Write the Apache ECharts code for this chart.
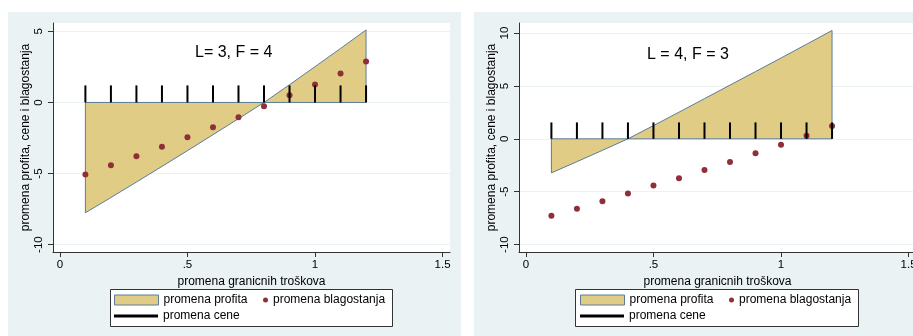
<!DOCTYPE html>
<html><head><meta charset="utf-8">
<script src="https://cdn.jsdelivr.net/npm/echarts@6/dist/echarts.min.js"></script>
<style>html,body{margin:0;padding:0;background:#fff}#c{width:913px;height:336px}</style>
</head><body><div id="c"></div>
<script>
// ---- data ----
const costChange   = [0.1, 0.2, 0.3, 0.4, 0.5, 0.6, 0.7, 0.8, 0.9, 1.0, 1.1, 1.2];
const profitLeft   = [-7.76, -6.69, -5.60, -4.50, -3.39, -2.27, -1.14, 0.0, 1.25, 2.52, 3.80, 5.10];
const welfareLeft  = [-5.06, -4.42, -3.79, -3.11, -2.45, -1.74, -1.04, -0.26, 0.50, 1.27, 2.04, 2.88];
const priceLeft    = [1.2, 1.2, 1.2, 1.2, 1.2, 1.2, 1.2, 1.2, 1.2, 1.2, 1.2, 1.2];
const profitRight  = [-3.22, -2.16, -1.09, 0.0, 1.25, 2.52, 3.80, 5.08, 6.36, 7.64, 8.94, 10.24];
const welfareRight = [-7.27, -6.60, -5.91, -5.18, -4.42, -3.73, -2.94, -2.18, -1.36, -0.57, 0.28, 1.22];
const priceRight   = [1.55, 1.55, 1.55, 1.55, 1.55, 1.55, 1.55, 1.55, 1.55, 1.55, 1.55, 1.55];
const xTickValues  = [0, 0.5, 1, 1.5];
const xTickLabels  = ['0', '.5', '1', '1.5'];
const yTicksLeft   = [-10, -5, 0, 5];
const yTicksRight  = [-10, -5, 0, 5, 10];
const panelTitles  = ['L= 3, F = 4', 'L = 4, F = 3'];
const seriesNames  = ['promena profita', 'promena blagostanja', 'promena cene'];
const xTitle = 'promena granicnih troškova';
const yTitle = 'promena profita, cene i blagostanja';

// ---- styles ----
const FONT = '"Liberation Sans", Arial, sans-serif';
const BG = '#eaf2f3';
const AREA_FILL = '#e0cc85';
const AREA_LINE = '#5b7d99';
const DOT = '#8f2f37';
const AXIS = '#333';

function areaData(vals) {
  const d = [[costChange[0], 0]];
  costChange.forEach((x, i) => d.push([x, vals[i]]));
  d.push([costChange[costChange.length - 1], 0]);
  d.push([costChange[0], 0]);
  return d;
}

const panels = [
  {left: 53, yMin: -10.52, yMax: 5.59, yTicks: yTicksLeft, profit: profitLeft, welfare: welfareLeft, price: priceLeft, legendX: 0, titleLeft: 195, titleTop: 45},
  {left: 519, yMin: -10.70, yMax: 10.95, yTicks: yTicksRight, profit: profitRight, welfare: welfareRight, price: priceRight, legendX: 466, titleLeft: 647, titleTop: 47}
];

const grid = [], xAxis = [], yAxis = [], series = [], legend = [], title = [];
panels.forEach((p, i) => {
  grid.push({left: p.left, top: 23, width: 397, height: 229, show: true, backgroundColor: '#fff', borderWidth: 0, containLabel: false, outerBoundsMode: 'none'});
  xAxis.push({
    gridIndex: i, type: 'value', min: -0.027, max: 1.529,
    splitLine: {show: false},
    axisLine: {show: true, onZero: false, lineStyle: {color: AXIS, width: 1}},
    axisTick: {show: true, customValues: xTickValues, length: 5, lineStyle: {color: AXIS, width: 1}},
    axisLabel: {customValues: xTickValues, formatter: v => { const k = xTickValues.indexOf(v); return k >= 0 ? xTickLabels[k] : String(v); }, margin: 7, fontSize: 11.5, color: '#000', fontFamily: FONT},
    name: xTitle, nameLocation: 'middle', nameGap: 18,
    nameTextStyle: {fontSize: 12, color: '#000', fontFamily: FONT}
  });
  yAxis.push({
    gridIndex: i, type: 'value', min: p.yMin, max: p.yMax,
    splitLine: {show: true, lineStyle: {color: BG, width: 1}},
    axisLine: {show: true, onZero: false, lineStyle: {color: AXIS, width: 1}},
    axisTick: {show: true, customValues: p.yTicks, length: 5, lineStyle: {color: AXIS, width: 1}},
    axisLabel: {customValues: p.yTicks, rotate: 90, margin: 8, fontSize: 11.5, color: '#000', fontFamily: FONT},
    name: yTitle, nameLocation: 'middle', nameGap: 15, nameRotate: 90,
    nameTextStyle: {fontSize: 12, color: '#000', fontFamily: FONT}
  });
  series.push({
    type: 'line', name: seriesNames[0], xAxisIndex: i, yAxisIndex: i,
    data: areaData(p.profit), showSymbol: false, symbol: 'none', silent: true, z: 1,
    lineStyle: {color: AREA_LINE, width: 1}, itemStyle: {color: AREA_LINE},
    areaStyle: {color: AREA_FILL, opacity: 1}
  });
  series.push({
    type: 'scatter', name: seriesNames[1], xAxisIndex: i, yAxisIndex: i,
    data: costChange.map((x, k) => [x, p.welfare[k]]), symbol: 'circle', symbolSize: 6, z: 2,
    itemStyle: {color: DOT, opacity: 1}
  });
  series.push({
    type: 'custom', name: seriesNames[2], xAxisIndex: i, yAxisIndex: i, z: 3,
    data: costChange.map((x, k) => [x, p.price[k]]), encode: {x: 0, y: 1},
    itemStyle: {color: '#000'},
    renderItem: (params, api) => {
      const a = api.coord([api.value(0), 0]);
      const b = api.coord([api.value(0), api.value(1)]);
      return {type: 'line', shape: {x1: a[0], y1: a[1], x2: b[0], y2: b[1]}, style: {stroke: '#000', lineWidth: 2}};
    }
  });
  const common = {padding: 0, selectedMode: false, orient: 'horizontal', textStyle: {fontSize: 12, color: '#000', fontFamily: FONT, lineHeight: 12}};
  legend.push(Object.assign({left: 114 + p.legendX, top: 294, itemWidth: 44, itemHeight: 10,
    data: [{name: seriesNames[0], icon: 'rect', itemStyle: {color: AREA_FILL, borderColor: AREA_LINE, borderWidth: 1}}]}, common));
  legend.push(Object.assign({left: 114 + p.legendX, top: 310, itemWidth: 44, itemHeight: 3,
    data: [{name: seriesNames[2], icon: 'rect', itemStyle: {color: '#000', borderWidth: 0}}]}, common));
  legend.push(Object.assign({left: 263 + p.legendX, top: 294, itemWidth: 5, itemHeight: 5,
    data: [{name: seriesNames[1], icon: 'circle', itemStyle: {color: DOT, opacity: 1}}]}, common));
  title.push({text: panelTitles[i], left: p.titleLeft, top: p.titleTop, padding: 0,
    textStyle: {fontSize: 16, fontWeight: 'normal', color: '#000', fontFamily: FONT}});
});

const chart = echarts.init(document.getElementById('c'), null, {renderer: 'canvas'});
chart.setOption({
  animation: false,
  backgroundColor: '#fff',
  textStyle: {fontFamily: FONT},
  graphic: {elements: [
    {type: 'rect', z: -1, silent: true, shape: {x: 8, y: 12, width: 453, height: 330}, style: {fill: BG}},
    {type: 'rect', z: -1, silent: true, shape: {x: 474, y: 12, width: 450, height: 330}, style: {fill: BG}},
    {type: 'rect', z: -1, silent: true, shape: {x: 110.5, y: 289.5, width: 282, height: 37}, style: {fill: '#fff', stroke: '#333', lineWidth: 1}},
    {type: 'rect', z: -1, silent: true, shape: {x: 575.5, y: 289.5, width: 283, height: 37}, style: {fill: '#fff', stroke: '#333', lineWidth: 1}}
  ]},
  title, grid, xAxis, yAxis, legend, series
});
</script></body></html>
